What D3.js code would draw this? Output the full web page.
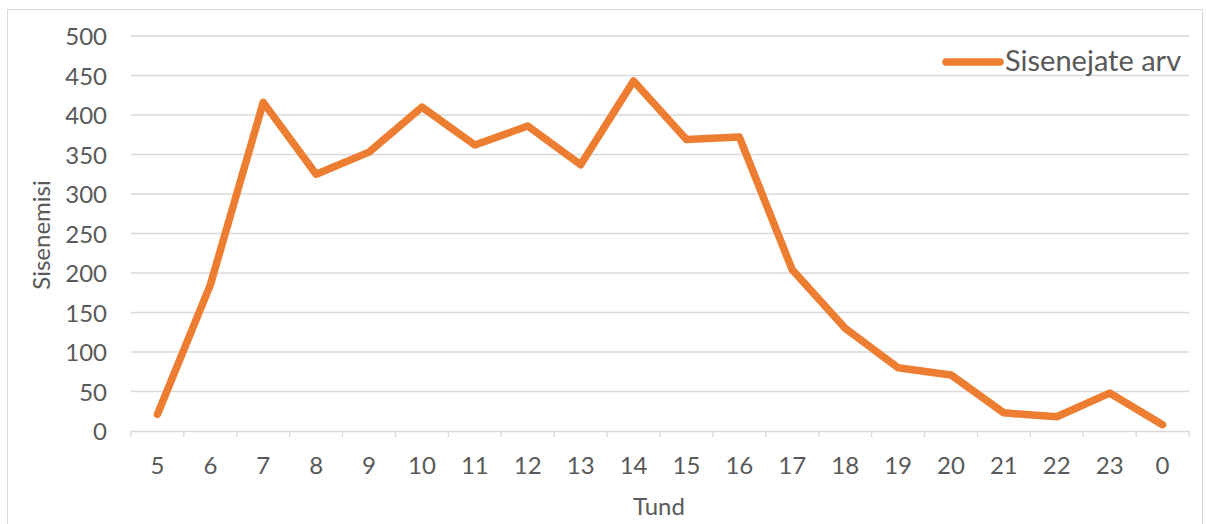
<!DOCTYPE html>
<html>
<head>
<meta charset="utf-8">
<script src="https://cdn.jsdelivr.net/npm/d3@7"></script>
<style>
  body { margin: 0; background: #fff; }
  svg text { font-family: Lato, "Open Sans", sans-serif; fill: #595959; }
</style>
</head>
<body>
<div id="chart"></div>
<script>
// tunnid ja sisenejate arv
var hours = ["5", "6", "7", "8", "9", "10", "11", "12", "13", "14", "15", "16", "17", "18", "19", "20", "21", "22", "23", "0"];
var entries = [21, 185, 416, 325, 353, 410, 362, 386, 337, 443, 369, 372, 204, 130, 80, 71, 23, 18, 48, 8];
var yTicks = [0, 50, 100, 150, 200, 250, 300, 350, 400, 450, 500];
var seriesName = "Sisenejate arv";

var width = 1206;
var height = 524;
var margin = {top: 36, right: 17, bottom: 93, left: 131};

var svg = d3.select("#chart")
            .append("svg")
            .attr("width", width)
            .attr("height", height);

// raam
svg.append("rect")
   .attr("x", 7.5)
   .attr("y", 9.5)
   .attr("width", 1195)
   .attr("height", 530)
   .attr("fill", "none")
   .attr("stroke", "#d9d9d9");

var x = d3.scaleBand()
          .domain(hours)
          .range([margin.left, width - margin.right]);

var y = d3.scaleLinear()
          .domain([0, 500])
          .range([height - margin.bottom, margin.top]);

// ruudustik
svg.append("g")
   .selectAll("line")
   .data(yTicks.slice(1))
   .enter()
   .append("line")
   .attr("x1", margin.left)
   .attr("x2", width - margin.right)
   .attr("y1", function(d) { return y(d); })
   .attr("y2", function(d) { return y(d); })
   .attr("stroke", "#d9d9d9")
   .attr("stroke-width", 1.3);

// y telg
var yAxis = svg.append("g")
               .attr("transform", "translate(" + margin.left + ",0)")
               .call(d3.axisLeft(y).tickValues(yTicks).tickSize(0).tickPadding(24));
yAxis.select(".domain").remove();
yAxis.selectAll("text")
     .style("font-size", "24px")
     .attr("dy", "0.36em");

// x telg
var xAxis = svg.append("g")
               .attr("transform", "translate(0," + y(0) + ")")
               .call(d3.axisBottom(x).tickSizeInner(0).tickSizeOuter(0).tickPadding(26));
xAxis.select(".domain")
     .attr("stroke", "#d9d9d9")
     .attr("stroke-width", 1.3);
xAxis.selectAll("text")
     .style("font-size", "24px");

// tickid kategooriate vahel
svg.append("g")
   .selectAll("line")
   .data(d3.range(hours.length + 1))
   .enter()
   .append("line")
   .attr("x1", function(i) { return margin.left + i * x.step(); })
   .attr("x2", function(i) { return margin.left + i * x.step(); })
   .attr("y1", y(0))
   .attr("y2", y(0) + 6)
   .attr("stroke", "#d9d9d9")
   .attr("stroke-width", 1.3);

// joon
var line = d3.line()
             .x(function(d, i) { return x(hours[i]) + x.bandwidth() / 2; })
             .y(function(d) { return y(d); });

svg.append("path")
   .datum(entries)
   .attr("d", line)
   .attr("fill", "none")
   .attr("stroke", "#ed7d31")
   .attr("stroke-width", 7.5)
   .attr("stroke-linejoin", "round")
   .attr("stroke-linecap", "round");

// telgede pealkirjad
svg.append("text")
   .attr("x", 659)
   .attr("y", 515)
   .attr("text-anchor", "middle")
   .style("font-size", "24px")
   .text("Tund");

svg.append("text")
   .attr("transform", "translate(50,235) rotate(-90)")
   .attr("text-anchor", "middle")
   .style("font-size", "24px")
   .text("Sisenemisi");

// legend
var legend = svg.append("g");
legend.append("line")
      .attr("x1", 946)
      .attr("x2", 1000)
      .attr("y1", 62)
      .attr("y2", 62)
      .attr("stroke", "#ed7d31")
      .attr("stroke-width", 7.5)
      .attr("stroke-linecap", "round");
legend.append("text")
      .attr("x", 1005)
      .attr("y", 71)
      .style("font-size", "29px")
      .text(seriesName);
</script>
</body>
</html>
